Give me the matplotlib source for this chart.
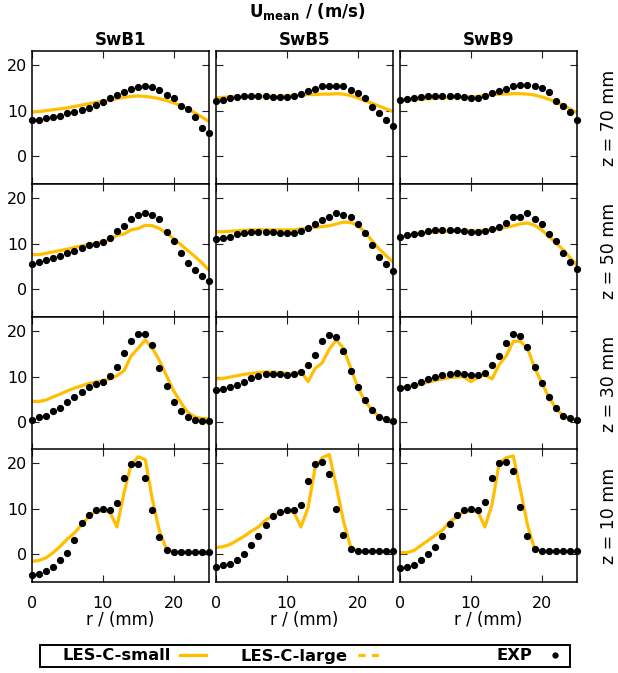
import numpy as np
import matplotlib
matplotlib.use("Agg")
import matplotlib.pyplot as plt
from matplotlib.lines import Line2D
from matplotlib.patches import Rectangle

# radial positions of the probes (mm)
r = np.arange(0, 26)

cases = ["SwB1", "SwB5", "SwB9"]
heights = ["z = 70 mm", "z = 50 mm", "z = 30 mm", "z = 10 mm"]

# --- z = 70 mm ---
exp_70_b1 = [7.9, 8.0, 8.3, 8.7, 8.9, 9.5, 9.8, 10.2, 10.6, 11.2, 11.8, 12.7, 13.5,
             14.0, 14.8, 15.2, 15.4, 15.2, 14.5, 13.4, 12.7, 11.1, 10.3, 8.7, 6.2, 5.1]
les_70_b1 = [9.7, 9.8, 10.0, 10.2, 10.4, 10.6, 10.9, 11.2, 11.5, 11.8, 12.0, 12.3, 12.6,
             12.9, 13.1, 13.2, 13.1, 12.9, 12.6, 12.2, 11.7, 11.1, 10.4, 9.5, 8.6, 7.6]
exp_70_b5 = [12.2, 12.4, 12.7, 12.9, 13.1, 13.2, 13.2, 13.1, 12.9, 12.9, 12.9, 13.1, 13.6,
             14.3, 14.8, 15.3, 15.4, 15.4, 15.3, 14.5, 13.8, 12.8, 10.7, 9.5, 7.9, 6.7]
les_70_b5 = [12.8, 12.9, 13.0, 13.0, 13.1, 13.1, 13.1, 13.1, 13.1, 13.1, 13.2, 13.3, 13.4,
             13.5, 13.5, 13.6, 13.6, 13.7, 13.6, 13.3, 12.8, 12.2, 11.6, 11.0, 10.4, 9.8]
exp_70_b9 = [12.4, 12.6, 12.8, 12.9, 13.1, 13.2, 13.2, 13.1, 13.1, 12.9, 12.7, 12.8, 13.1,
             13.8, 14.3, 14.8, 15.4, 15.6, 15.6, 15.4, 14.9, 14.0, 12.2, 11.1, 9.8, 7.9]
les_70_b9 = [12.2, 12.3, 12.4, 12.5, 12.6, 12.7, 12.8, 12.8, 12.9, 12.9, 13.0, 13.1, 13.3,
             13.5, 13.6, 13.6, 13.7, 13.7, 13.6, 13.4, 13.0, 12.5, 11.9, 11.2, 10.4, 9.5]

# --- z = 50 mm ---
exp_50_b1 = [5.5, 5.9, 6.4, 6.9, 7.4, 8.0, 8.5, 9.1, 9.6, 10.0, 10.4, 11.2, 12.7,
             13.8, 15.4, 16.2, 16.6, 16.2, 15.4, 12.6, 10.6, 8.0, 5.8, 4.3, 2.9, 1.8]
les_50_b1 = [7.6, 7.6, 7.9, 8.2, 8.5, 8.8, 9.2, 9.5, 9.8, 10.1, 10.4, 10.9, 11.8,
             12.1, 13.0, 13.3, 14.0, 13.9, 13.3, 12.3, 11.1, 9.8, 8.5, 7.2, 5.8, 4.2]
exp_50_b5 = [10.9, 11.3, 11.5, 12.0, 12.3, 12.6, 12.6, 12.6, 12.6, 12.4, 12.3, 12.4, 12.8,
             13.4, 14.2, 15.1, 15.8, 16.6, 16.3, 15.7, 14.2, 12.3, 9.6, 7.1, 5.5, 4.0]
les_50_b5 = [12.6, 12.6, 12.7, 12.8, 12.9, 13.0, 13.0, 13.0, 13.0, 13.0, 13.0, 13.0, 13.2,
             13.4, 13.6, 13.7, 13.9, 14.3, 14.7, 14.6, 14.0, 12.6, 10.7, 8.9, 7.4, 6.0]
exp_50_b9 = [11.5, 11.8, 12.2, 12.4, 12.7, 12.9, 13.0, 13.0, 12.9, 12.8, 12.6, 12.6, 12.7,
             13.2, 13.7, 14.5, 15.8, 15.8, 16.6, 15.3, 14.2, 12.0, 10.5, 8.0, 6.1, 4.5]
les_50_b9 = [11.4, 11.7, 12.0, 12.2, 12.4, 12.5, 12.6, 12.7, 12.7, 12.8, 12.8, 12.8, 12.9,
             13.1, 13.3, 13.6, 13.9, 14.3, 14.5, 14.0, 13.0, 11.6, 10.2, 8.7, 7.0, 5.2]

# --- z = 30 mm ---
exp_30_b1 = [0.6, 1.1, 1.5, 2.4, 3.2, 4.4, 5.6, 6.7, 7.8, 8.4, 8.9, 10.2, 12.2,
             15.1, 17.8, 19.4, 19.3, 16.9, 11.9, 7.9, 4.5, 2.4, 1.1, 0.6, 0.4, 0.3]
les_30_b1 = [4.6, 4.6, 4.9, 5.6, 6.2, 6.9, 7.5, 8.0, 8.5, 8.8, 9.1, 9.5, 10.2,
             11.3, 14.5, 16.2, 18.0, 16.2, 13.5, 10.2, 6.9, 4.4, 2.2, 1.2, 0.9, 0.8]
exp_30_b5 = [7.1, 7.3, 7.8, 8.2, 8.9, 9.7, 10.2, 10.5, 10.5, 10.5, 10.4, 10.5, 11.1,
             12.6, 14.8, 17.7, 19.1, 18.7, 15.6, 11.3, 7.8, 4.9, 2.8, 1.2, 0.7, 0.4]
les_30_b5 = [9.5, 9.6, 9.9, 10.2, 10.5, 10.7, 10.9, 11.0, 11.0, 10.9, 10.7, 10.5, 11.2,
             8.9, 11.8, 13.0, 16.0, 18.0, 16.2, 12.0, 7.8, 4.7, 2.8, 1.3, 0.7, 0.5]
exp_30_b9 = [7.5, 7.8, 8.2, 8.9, 9.5, 10.0, 10.4, 10.5, 10.7, 10.5, 10.4, 10.4, 10.7,
             12.6, 14.5, 17.3, 19.3, 18.8, 16.4, 12.0, 8.7, 5.6, 3.1, 1.5, 0.9, 0.6]
les_30_b9 = [7.6, 7.8, 8.1, 8.4, 8.8, 9.2, 9.5, 9.8, 9.9, 10.0, 8.9, 9.8, 10.4,
             9.5, 12.6, 14.5, 17.7, 17.7, 16.2, 12.0, 8.7, 5.6, 3.1, 1.5, 0.9, 0.6]

# --- z = 10 mm ---
exp_10_b1 = [-4.5, -4.2, -3.6, -2.7, -1.2, 0.4, 3.1, 6.9, 8.6, 9.6, 10.0, 9.6, 11.3,
             16.6, 19.8, 19.8, 16.7, 9.8, 3.9, 0.9, 0.6, 0.6, 0.6, 0.6, 0.6, 0.6]
les_10_b1 = [-1.5, -1.3, -0.7, 0.4, 1.8, 3.4, 4.7, 6.5, 8.2, 9.5, 9.6, 9.2, 6.0,
             13.5, 19.6, 21.3, 20.7, 12.0, 5.1, 1.1, 0.6, 0.5, 0.5, 0.5, 0.5, 0.5]
exp_10_b5 = [-2.7, -2.4, -2.0, -1.1, 0.2, 2.0, 4.0, 6.5, 8.5, 9.2, 9.8, 9.6, 10.8,
             16.1, 19.8, 20.1, 17.6, 10.0, 4.3, 1.1, 0.7, 0.7, 0.7, 0.7, 0.7, 0.7]
les_10_b5 = [1.5, 1.7, 2.2, 3.1, 4.0, 5.1, 6.0, 7.5, 8.4, 9.2, 9.5, 9.2, 6.0,
             10.2, 18.9, 21.1, 21.8, 14.9, 7.3, 1.7, 0.7, 0.6, 0.6, 0.6, 0.6, 0.6]
exp_10_b9 = [-2.9, -2.7, -2.3, -1.3, 0.0, 1.7, 4.0, 6.6, 8.7, 9.6, 10.0, 9.7, 11.4,
             16.7, 20.0, 20.2, 18.2, 10.4, 4.0, 1.1, 0.7, 0.7, 0.7, 0.7, 0.7, 0.7]
les_10_b9 = [0.4, 0.4, 0.9, 2.0, 3.1, 4.2, 5.3, 7.1, 8.2, 9.4, 9.5, 9.3, 6.0,
             10.9, 19.9, 21.1, 21.5, 14.2, 6.5, 1.2, 0.7, 0.6, 0.6, 0.6, 0.6, 0.6]

exp_data = [[exp_70_b1, exp_70_b5, exp_70_b9],
            [exp_50_b1, exp_50_b5, exp_50_b9],
            [exp_30_b1, exp_30_b5, exp_30_b9],
            [exp_10_b1, exp_10_b5, exp_10_b9]]
les_data = [[les_70_b1, les_70_b5, les_70_b9],
            [les_50_b1, les_50_b5, les_50_b9],
            [les_30_b1, les_30_b5, les_30_b9],
            [les_10_b1, les_10_b5, les_10_b9]]

gold = "#FFBF00"
W, H = 618, 673

fig = plt.figure(figsize=(W / 100, H / 100), dpi=100)

col_left = [32, 216, 400]
col_w = 177
row_top = [51, 184, 317, 449]
row_h = 133

for i in range(4):
    for j in range(3):
        ax = fig.add_axes([col_left[j] / W, 1 - (row_top[i] + row_h) / H,
                           col_w / W, row_h / H])
        ax.plot(r, les_data[i][j], color=gold, lw=2.3, zorder=2)
        ax.plot(r, exp_data[i][j], "o", color="black", ms=4.2, zorder=3,
                clip_on=False)
        ax.set_xlim(0, 25)
        ax.set_ylim(-6, 23)
        ax.set_xticks([0, 10, 20])
        ax.set_yticks([0, 10, 20])
        ax.tick_params(direction="in", top=True, right=True, length=5,
                       width=0.8, labelsize=11.5, colors="#222222")
        ax.tick_params(axis="x", pad=10)
        ax.tick_params(labelcolor="black")
        for s in ax.spines.values():
            s.set_linewidth(1.1)
        if j > 0:
            ax.set_yticklabels([])
        if i < 3:
            ax.set_xticklabels([])
        else:
            ax.set_xlabel("r / (mm)", fontsize=12, labelpad=0)
        if i == 0:
            ax.set_title(cases[j], fontsize=12, fontweight="bold", pad=4)
        if j == 2:
            ax.text(1.18, 0.5, heights[i], transform=ax.transAxes,
                    rotation=90, ha="center", va="center", fontsize=12.5)

fig.text(0.497, 1 - 12 / H, r"U$_{\bf mean}$ / (m/s)", ha="center",
         va="center", fontsize=12, fontweight="bold")

# legend: one entry per slot, text before the key, inside a single frame
fig.add_artist(Rectangle((40 / W, 6 / H), 530 / W, 22 / H,
                         transform=fig.transFigure, fill=False,
                         edgecolor="black", lw=1.4))
entries = [
    (Line2D([], [], color=gold, lw=2.3), "LES-C-small", 62, 1.6),
    (Line2D([], [], color=gold, lw=2.3, ls=(0, (2.2, 2.0))), "LES-C-large", 241, 1.4),
    (Line2D([], [], color="black", marker="o", ls="none", ms=3.5), "EXP", 496, 1.6),
]
for handle, label, x0, hl in entries:
    lg = fig.legend([handle], [label], loc="center left",
                    bbox_to_anchor=(x0 / W, 17 / H), markerfirst=False,
                    frameon=False, borderpad=0, borderaxespad=0,
                    handlelength=hl, handletextpad=0.6,
                    prop={"size": 11.8, "weight": "bold"})

fig.savefig("out.png", dpi=100)
